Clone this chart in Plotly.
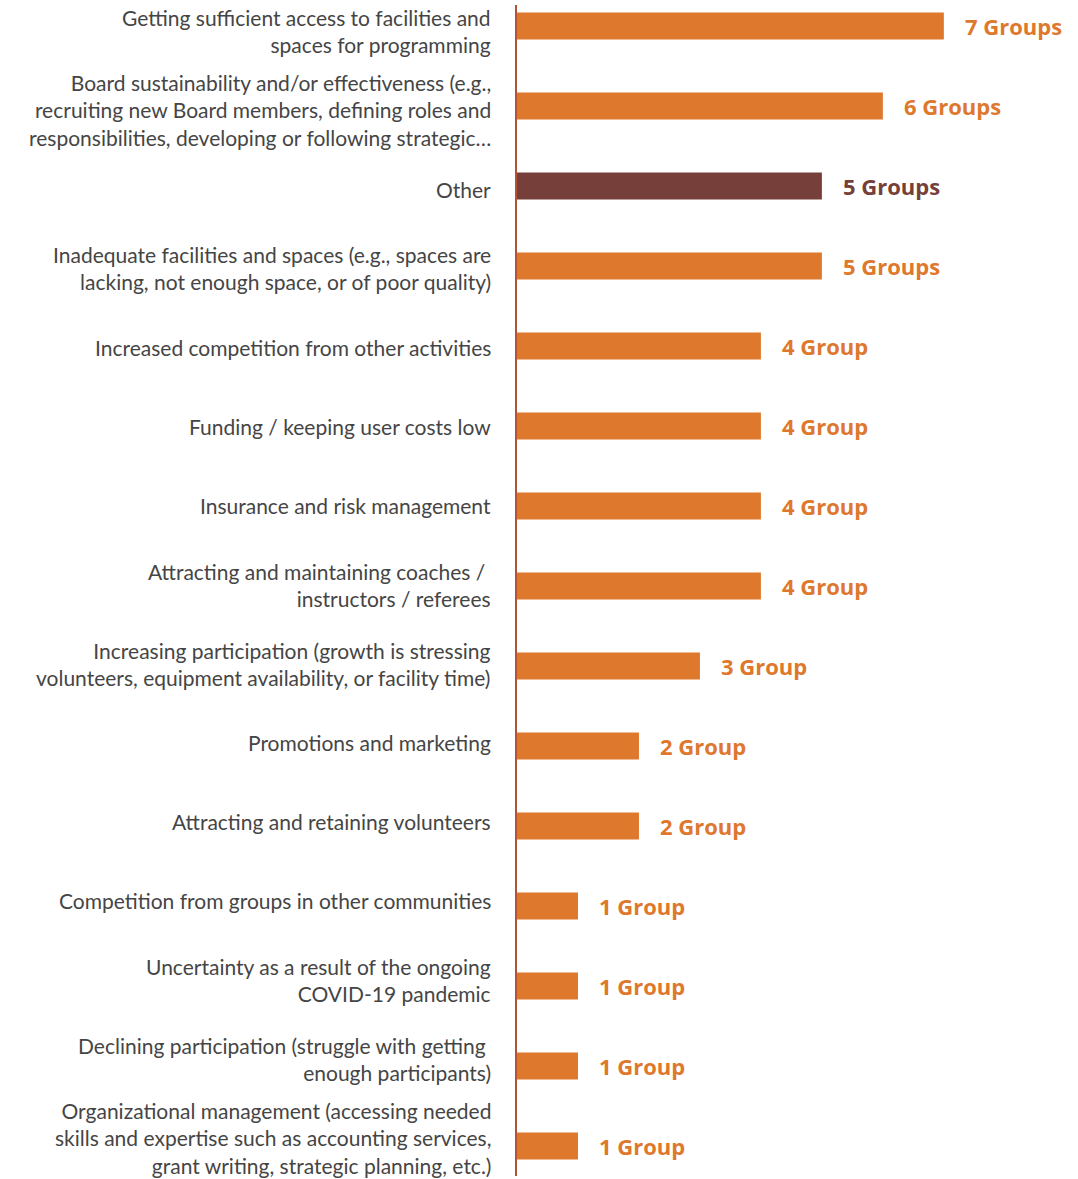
import plotly.graph_objects as go

categories = [
    "Getting sufficient access to facilities and<br>spaces for programming",
    "Board sustainability and/or effectiveness (e.g.,<br>recruiting new Board members, defining roles and<br>responsibilities, developing or following strategic…",
    "Other",
    "Inadequate facilities and spaces (e.g., spaces are<br>lacking, not enough space, or of poor quality)",
    "Increased competition from other activities",
    "Funding / keeping user costs low",
    "Insurance and risk management",
    "Attracting and maintaining coaches / <br>instructors / referees",
    "Increasing participation (growth is stressing<br>volunteers, equipment availability, or facility time)",
    "Promotions and marketing",
    "Attracting and retaining volunteers",
    "Competition from groups in other communities",
    "Uncertainty as a result of the ongoing<br>COVID-19 pandemic",
    "Declining participation (struggle with getting <br>enough participants)",
    "Organizational management (accessing needed<br>skills and expertise such as accounting services,<br>grant writing, strategic planning, etc.)",
]
values = [7, 6, 5, 5, 4, 4, 4, 4, 3, 2, 2, 1, 1, 1, 1]
value_labels = ["7 Groups", "6 Groups", "5 Groups", "5 Groups", "4 Group", "4 Group",
                "4 Group", "4 Group", "3 Group", "2 Group", "2 Group", "1 Group",
                "1 Group", "1 Group", "1 Group"]

ORANGE = "#DE782D"
BROWN = "#763F39"
colors = [BROWN if c == "Other" else ORANGE for c in categories]
positions = list(range(len(categories)))

fig = go.Figure()
fig.add_trace(go.Bar(
    x=values, y=positions, orientation="h", width=0.34,
    marker=dict(color=colors, line=dict(width=0)),
    hoverinfo="skip",
))

annotations = []
n = len(categories)
for pos, cat, val, lab, col in zip(positions, categories, values, value_labels, colors):
    # category labels are spread slightly tighter than the bars
    ys = -(5.0 - 13.0 * pos / (n - 1))
    annotations.append(dict(
        xref="paper", yref="y", x=0, y=pos, text=cat, showarrow=False,
        xanchor="right", yanchor="middle", align="right", xshift=-24, yshift=ys,
        font=dict(family="Lato, Open Sans, sans-serif", size=21, color="#454545"),
    ))
    annotations.append(dict(
        xref="x", yref="y", x=val, y=pos, text="<b>" + lab + "</b>", showarrow=False,
        xanchor="left", yanchor="middle", xshift=19,
        font=dict(family="Open Sans, Lato, sans-serif", size=22, color=col),
    ))

fig.update_layout(
    width=1078, height=1179,
    margin=dict(l=517, r=0, t=5, b=3),
    paper_bgcolor="white", plot_bgcolor="white",
    showlegend=False,
    annotations=annotations,
    xaxis=dict(range=[0, 9.2], visible=False, fixedrange=True),
    yaxis=dict(range=[14.375, -0.2625], showticklabels=False, ticks="",
               showgrid=False, zeroline=False, showline=True,
               linecolor="#B3523B", linewidth=2, fixedrange=True),
)

fig.write_html("out.html", config={"displayModeBar": False},
               post_script="document.body.style.margin='0';")
